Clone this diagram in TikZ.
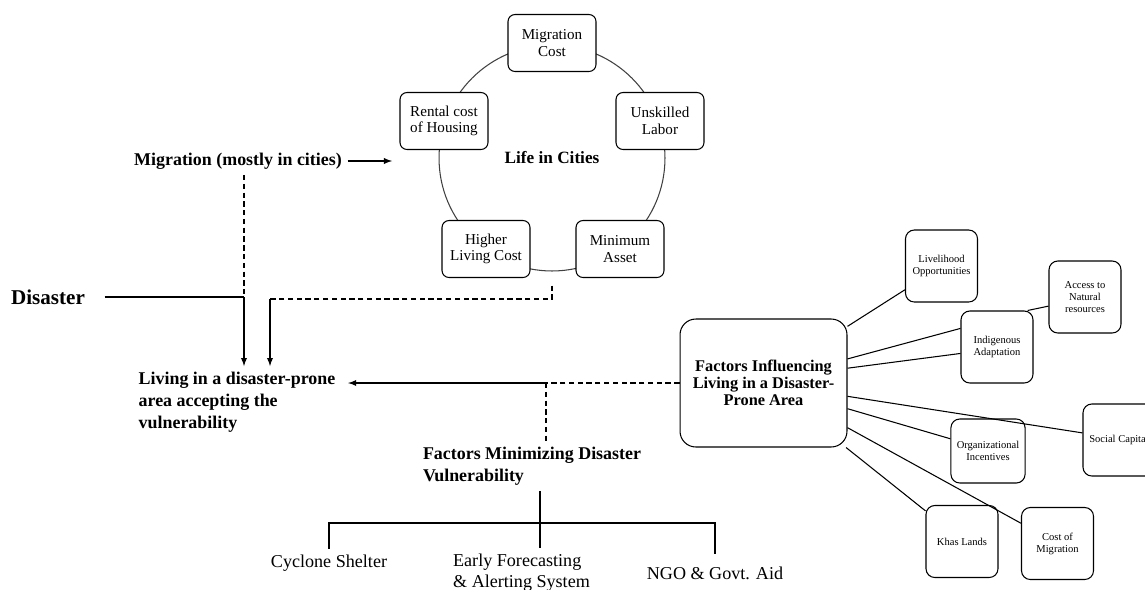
\documentclass[tikz,border=0pt]{standalone}
\usepackage{fontspec}
\setmainfont{Liberation Serif}

\begin{document}
\begin{tikzpicture}[x=0.02cm,y=-0.02cm,line width=0.6pt,
  dashed/.style={dash pattern=on 3pt off 2pt},
  lbl/.style={font=\bfseries\fontsize{10.2}{12.5}\selectfont,align=left,inner sep=3pt},
  leaf/.style={font=\fontsize{10.3}{12}\selectfont,align=left,inner sep=3pt},
  cbox/.style={draw,fill=white,rounded corners=4pt,minimum width=1.76cm,minimum height=1.14cm,align=center,font=\fontsize{8.6}{9.5}\selectfont},
  sbox/.style={draw,fill=white,rounded corners=5pt,minimum width=1.44cm,minimum height=1.44cm,align=center,font=\fontsize{6}{6.8}\selectfont}]
\useasboundingbox (0,0) rectangle (1145,589);
\node (city) at (552,158) [draw=black!75,circle,minimum size=4.52cm,font=\bfseries\fontsize{9.8}{11}\selectfont] {Life in Cities};
\node (mcost) at (552,43) [cbox] {Migration\\Cost};
\node (labor) at (660,121) [cbox] {Unskilled\\Labor};
\node (rent) at (444,121) [cbox] {Rental cost\\of Housing};
\node (higher) at (486,249) [cbox] {Higher\\Living Cost};
\node (asset) at (620,249) [cbox] {Minimum\\Asset};
\node (mig) at (238,161) [lbl] {Migration (mostly in cities)};
\node (dis) at (48,297) [lbl,font=\bfseries\fontsize{12}{14}\selectfont] {Disaster};
\node (live) at (237,402) [lbl] {Living in a disaster-prone\\area accepting the\\vulnerability};
\node (fmin) at (532,466) [lbl] {Factors Minimizing Disaster\\Vulnerability};
\node (cyc) at (329,563) [leaf] {Cyclone Shelter};
\node (early) at (521.5,572.5) [leaf] {Early Forecasting\\\& Alerting System};
\node (ngo) at (715,573) [leaf] {NGO \& Govt. Aid};
\node (fac) at (763.5,383) [draw,fill=white,rounded corners=9pt,minimum width=3.34cm,minimum height=2.56cm,align=center,font=\bfseries\fontsize{9.3}{9.8}\selectfont] {Factors Influencing\\Living in a Disaster-\\Prone Area};
\node (liv) at (941.5,266) [sbox] {Livelihood\\Opportunities};
\node (acc) at (1085,297) [sbox] {Access to\\Natural\\resources};
\node (ind) at (997,347) [sbox] {Indigenous\\Adaptation};
\node (soc) at (1119,440) [sbox] {Social Capital};
\node (org) at (988,451) [sbox,minimum width=1.46cm,minimum height=1.28cm] {Organizational\\Incentives};
\node (khas) at (962,541.5) [sbox] {Khas Lands};
\node (cmig) at (1057.5,543.5) [sbox] {Cost of\\Migration};
\coordinate (migend) at (392,161);
\coordinate (j1) at (244,297);
\coordinate (j2) at (270,299);
\coordinate (j3) at (546,383);
\coordinate (j4) at (540,523);
\draw[-latex] (mig.east) -- (migend);
\draw[dashed] (mig.south -| j1) -- (j1);
\draw ([xshift=0.28cm]dis.east) -- (j1);
\draw[-latex] (j1) -- (j1 |- live.north);
\draw[dashed] ([yshift=-8pt]city.south) |- (j2);
\draw[-latex] (j2) -- (j2 |- live.north);
\draw[dashed] (fac.west |- j3) -- (j3);
\draw[-latex] (j3) -- ([xshift=4pt]live.east |- j3);
\draw[dashed] (j3) -- (j3 |- fmin.north);
\draw (fmin.south -| j4) -- (j4);
\draw (cyc.north) |- (j4) -| ([yshift=4pt]ngo.north);
\draw (j4) -- (j4 |- early.north);
\draw (fac.34) -- (liv.213);
\draw (fac.16) -- (ind.153);
\draw (fac.10) -- (ind.190);
\draw (ind.50) -- (acc.194);
\draw (fac.-9) -- (soc.169);
\draw (fac.-17) -- (org.162);
\draw (fac.-28) -- (cmig.151);
\draw (fac.-38) -- (khas.140);
\end{tikzpicture}
\end{document}
